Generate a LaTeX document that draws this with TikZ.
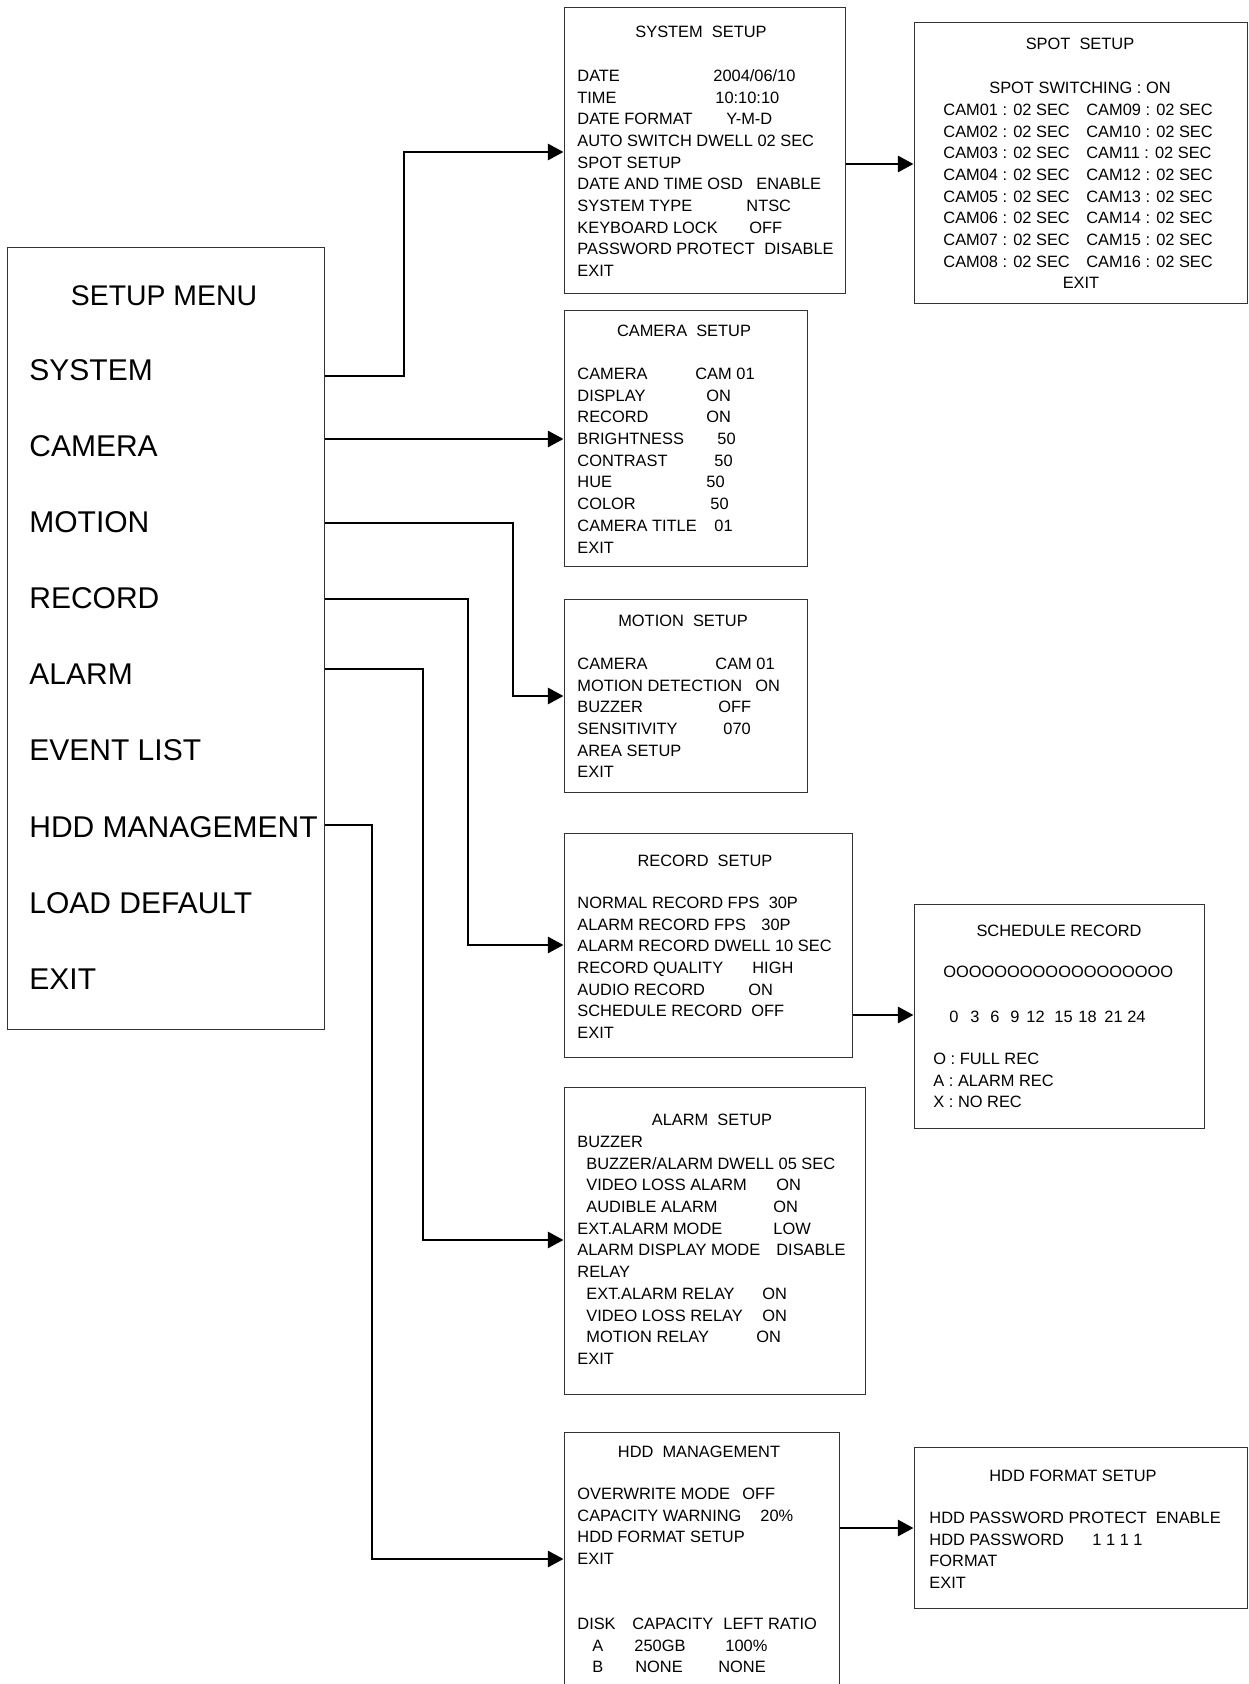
\documentclass[tikz,border=0pt]{standalone}
\usepackage{fontspec}
\setmainfont{Liberation Sans}
\usetikzlibrary{arrows.meta,fit}
\newlength\pxu
\setlength\pxu{0.5pt}
\newcommand\lst{\fontsize{8.2}{10.85}\selectfont}
\newcommand\bigmenu{\fontsize{15}{38.05}\selectfont}
\newcommand\fl{\rule{0pt}{10pt}}
\newcommand\kv[3]{\makebox[#1\pxu][l]{#2}#3}

\begin{document}
\begin{tikzpicture}[
    x=0.5pt, y=-0.5pt,
    panel/.style={draw=black!80, line width=0.5pt, inner sep=0pt},
    title/.style={anchor=base, inner sep=0pt, font=\lst},
    body/.style={anchor=north west, inner sep=0pt, align=left, font=\lst},
    line/.style={anchor=base west, inner sep=0pt, font=\lst},
    arrow/.style={-{Triangle[length=7.8pt,width=8pt]}, line width=1.4pt}
]
\useasboundingbox (0,0) rectangle (1248,1684);

% Setup menu
\node[panel, fit={(7.5,248) (324,1029)}] (menu) {};
\node[title, font=\fontsize{14.2}{17}\selectfont] (menu-t) at (164,306) {SETUP MENU};
\node[body, font=\bigmenu] (menu-b) at (29,340) {\rule{0pt}{20pt}SYSTEM\\CAMERA\\MOTION\\RECORD\\ALARM\\EVENT LIST\\HDD MANAGEMENT\\LOAD DEFAULT\\EXIT};

% System setup
\node[panel, fit={(564,7.5) (845,294)}] (sys) {};
\node[title] (sys-t) at (701,38) {SYSTEM\ \ SETUP};
\node[body] (sys-b) at (577,61) {\fl\kv{136}{DATE}{2004/06/10}\\
    \kv{138}{TIME}{10:10:10}\\
    \kv{149}{DATE FORMAT}{Y-M-D}\\
    AUTO SWITCH DWELL 02 SEC\\
    SPOT SETUP\\
    \kv{179}{DATE AND TIME OSD}{ENABLE}\\
    \kv{169}{SYSTEM TYPE}{NTSC}\\
    \kv{172}{KEYBOARD LOCK}{OFF}\\
    \kv{187}{PASSWORD PROTECT}{DISABLE}\\
    EXIT};

% Spot setup
\node[panel, fit={(914,23) (1247,304)}] (spot) {};
\node[title] (spot-t) at (1080,50) {SPOT\ \ SETUP};
\node[title] (spot-s) at (1080,94) {SPOT SWITCHING : ON};
\node[body] (spot-b) at (943,95) {\fl\kv{143}{CAM01 : 02 SEC}{CAM09 : 02 SEC}\\
    \kv{143}{CAM02 : 02 SEC}{CAM10 : 02 SEC}\\
    \kv{143}{CAM03 : 02 SEC}{CAM11 : 02 SEC}\\
    \kv{143}{CAM04 : 02 SEC}{CAM12 : 02 SEC}\\
    \kv{143}{CAM05 : 02 SEC}{CAM13 : 02 SEC}\\
    \kv{143}{CAM06 : 02 SEC}{CAM14 : 02 SEC}\\
    \kv{143}{CAM07 : 02 SEC}{CAM15 : 02 SEC}\\
    \kv{143}{CAM08 : 02 SEC}{CAM16 : 02 SEC}};
\node[title] (spot-x) at (1081,289) {EXIT};

% Camera setup
\node[panel, fit={(564,311) (807,566)}] (cam) {};
\node[title] (cam-t) at (684,337) {CAMERA\ \ SETUP};
\node[body] (cam-b) at (577,359) {\fl\kv{118}{CAMERA}{CAM 01}\\
    \kv{129}{DISPLAY}{ON}\\
    \kv{129}{RECORD}{ON}\\
    \kv{140}{BRIGHTNESS}{50}\\
    \kv{137}{CONTRAST}{50}\\
    \kv{129}{HUE}{50}\\
    \kv{133}{COLOR}{50}\\
    \kv{137}{CAMERA TITLE}{01}\\
    EXIT};

% Motion setup
\node[panel, fit={(564,599) (807,792)}] (mot) {};
\node[title] (mot-t) at (683,626) {MOTION\ \ SETUP};
\node[body] (mot-b) at (577,649) {\fl\kv{138}{CAMERA}{CAM 01}\\
    \kv{178}{MOTION DETECTION}{ON}\\
    \kv{141}{BUZZER}{OFF}\\
    \kv{146}{SENSITIVITY}{070}\\
    AREA SETUP\\
    EXIT};

% Record setup
\node[panel, fit={(564,833) (852,1057)}] (rec) {};
\node[title] (rec-t) at (705,866) {RECORD\ \ SETUP};
\node[body] (rec-b) at (577,888) {\fl NORMAL RECORD FPS~~30P\\
    \kv{184}{ALARM RECORD FPS}{30P}\\
    ALARM RECORD DWELL 10 SEC\\
    \kv{175}{RECORD QUALITY}{HIGH}\\
    \kv{171}{AUDIO RECORD}{ON}\\
    \kv{174}{SCHEDULE RECORD}{OFF}\\
    EXIT};

% Schedule record
\node[panel, fit={(914,904) (1204,1128)}] (sch) {};
\node[title] (sch-t) at (1059,936) {SCHEDULE RECORD};
\node[line] (sch-o) at (943,977) {OOOOOOOOOOOOOOOOOO};
\node[line] (sch-h) at (949,1022) {\kv{21}{0}{}\kv{20}{3}{}\kv{20}{6}{}\kv{16}{9}{}\kv{28}{12}{}\kv{24}{15}{}\kv{26}{18}{}\kv{23}{21}{}24};
\node[body] (sch-b) at (933,1044) {\fl O : FULL REC\\A : ALARM REC\\X : NO REC};

% Alarm setup
\node[panel, fit={(564,1087) (865,1394)}] (alm) {};
\node[title] (alm-t) at (712,1125) {ALARM\ \ SETUP};
\node[body] (alm-b) at (577,1127) {\fl BUZZER\\
    \hspace*{9\pxu}BUZZER/ALARM DWELL 05 SEC\\
    \hspace*{9\pxu}\kv{190}{VIDEO LOSS ALARM}{ON}\\
    \hspace*{9\pxu}\kv{187}{AUDIBLE ALARM}{ON}\\
    \kv{196}{EXT.ALARM MODE}{LOW}\\
    \kv{199}{ALARM DISPLAY MODE}{DISABLE}\\
    RELAY\\
    \hspace*{9\pxu}\kv{176}{EXT.ALARM RELAY}{ON}\\
    \hspace*{9\pxu}\kv{176}{VIDEO LOSS RELAY}{ON}\\
    \hspace*{9\pxu}\kv{170}{MOTION RELAY}{ON}\\
    EXIT};

% HDD management
\node[panel, fit={(564,1432) (839,1692)}] (hdd) {};
\node[title] (hdd-t) at (699,1457) {HDD\ \ MANAGEMENT};
\node[body] (hdd-b) at (577,1479) {\fl\kv{165}{OVERWRITE MODE}{OFF}\\
    \kv{183}{CAPACITY WARNING}{20\%}\\
    HDD FORMAT SETUP\\
    EXIT};
\node[body] (hdd-d) at (577,1609) {\fl\kv{55}{DISK}{}\kv{91}{CAPACITY}{}LEFT RATIO\\
    \hspace*{15\pxu}\kv{42}{A}{}\kv{91}{250GB}{}100\%\\
    \hspace*{15\pxu}\kv{43}{B}{}\kv{83}{NONE}{}NONE};

% HDD format setup
\node[panel, fit={(914,1447) (1247,1608)}] (fmt) {};
\node[title] (fmt-t) at (1073,1481) {HDD FORMAT SETUP};
\node[body] (fmt-b) at (929,1503) {\fl HDD PASSWORD PROTECT~~ENABLE\\
    \kv{163}{HDD PASSWORD}{1 1 1 1}\\
    FORMAT\\
    EXIT};

% Turning points of the connectors
\coordinate (sys-a) at (404,376);
\coordinate (sys-b) at (404,152);
\coordinate (cam-a) at (440,439);
\coordinate (mot-a) at (513,523);
\coordinate (mot-b) at (513,696);
\coordinate (rec-a) at (468,599);
\coordinate (rec-b) at (468,945);
\coordinate (alm-a) at (423,669);
\coordinate (alm-b) at (423,1240);
\coordinate (hdd-a) at (372,825);
\coordinate (hdd-b) at (372,1559);
\coordinate (spot-a) at (880,164);
\coordinate (sch-a) at (880,1015);
\coordinate (fmt-a) at (880,1528);

% Menu to sub menus
\draw[arrow] (menu.east |- sys-a) -- (sys-a) -- (sys-b) -- (sys.west |- sys-b);
\draw[arrow] (menu.east |- cam-a) -- (cam.west |- cam-a);
\draw[arrow] (menu.east |- mot-a) -- (mot-a) -- (mot-b) -- (mot.west |- mot-b);
\draw[arrow] (menu.east |- rec-a) -- (rec-a) -- (rec-b) -- (rec.west |- rec-b);
\draw[arrow] (menu.east |- alm-a) -- (alm-a) -- (alm-b) -- (alm.west |- alm-b);
\draw[arrow] (menu.east |- hdd-a) -- (hdd-a) -- (hdd-b) -- (hdd.west |- hdd-b);

% Sub menus to their own pages
\draw[arrow] (sys.east |- spot-a) -- (spot.west |- spot-a);
\draw[arrow] (rec.east |- sch-a) -- (sch.west |- sch-a);
\draw[arrow] (hdd.east |- fmt-a) -- (fmt.west |- fmt-a);

\end{tikzpicture}
\end{document}
